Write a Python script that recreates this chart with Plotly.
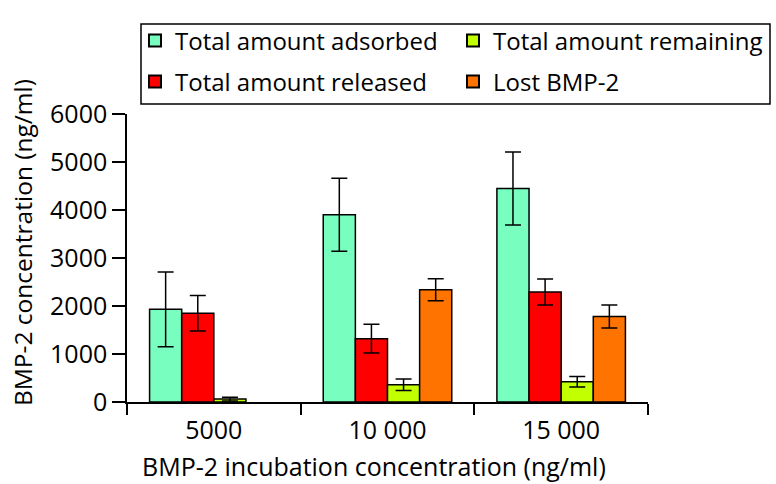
import plotly.graph_objects as go

categories = ["5000", "10 000", "15 000"]

adsorbed = [1930, 3900, 4450]
adsorbed_err = [780, 760, 760]
released = [1850, 1320, 2290]
released_err = [370, 300, 270]
remaining = [60, 360, 420]
remaining_err = [40, 120, 110]
lost = [None, 2340, 1780]
lost_err = [None, 230, 240]

series = [
    ("Total amount adsorbed", adsorbed, adsorbed_err, "#78FFC0", "legend"),
    ("Total amount released", released, released_err, "#FF0000", "legend2"),
    ("Total amount remaining", remaining, remaining_err, "#C2FF00", "legend"),
    ("Lost BMP-2", lost, lost_err, "#FF7300", "legend2"),
]

FONT = "Open Sans"
W, H = 776, 484
ML, MR, MT, MB = 127, 128, 114, 82
PW, PH = W - ML - MR, H - MT - MB


def px_x(p):
    return (p - ML) / PW


def px_y(p):
    return (H - MB - p) / PH


fig = go.Figure()
for name, vals, errs, color, leg in series:
    fig.add_trace(go.Bar(
        x=categories, y=vals, name=name, legend=leg,
        marker=dict(color=color, line=dict(color="black", width=1.5)),
        error_y=dict(type="data", array=errs, visible=True, color="black",
                     thickness=1.5, width=8),
    ))

leg_common = dict(
    orientation="h", xanchor="right", yanchor="middle",
    entrywidth=273, entrywidthmode="pixels",
    borderwidth=0, bgcolor="rgba(0,0,0,0)",
    font=dict(family=FONT, size=24, color="black"),
    traceorder="normal", itemsizing="constant",
)

fig.update_layout(
    width=W, height=H,
    margin=dict(l=ML, r=MR, t=MT, b=MB, autoexpand=False),
    plot_bgcolor="white", paper_bgcolor="white",
    font=dict(family=FONT, size=25, color="black"),
    barmode="group", bargap=0.26, bargroupgap=0,
    showlegend=True,
    legend=dict(x=px_x(771), y=px_y(41), **leg_common),
    legend2=dict(x=px_x(771), y=px_y(82), **leg_common),
    xaxis=dict(
        showline=True, linecolor="black", linewidth=1.5,
        ticks="outside", tickson="boundaries", ticklen=11, tickwidth=1.5,
        tickcolor="black", showgrid=False, zeroline=False,
        ticklabelstandoff=5,
        tickfont=dict(family=FONT, size=25, color="black"),
    ),
    yaxis=dict(
        range=[0, 6000], tickvals=[0, 1000, 2000, 3000, 4000, 5000, 6000],
        showline=True, linecolor="black", linewidth=1.5,
        ticks="outside", ticklen=13, tickwidth=1.5, tickcolor="black",
        showgrid=False, zeroline=False,
        tickfont=dict(family=FONT, size=25, color="black"),
    ),
    shapes=[dict(
        type="rect", xref="paper", yref="paper",
        x0=px_x(141), x1=px_x(770), y0=px_y(104), y1=px_y(24),
        line=dict(color="black", width=1.5), fillcolor="rgba(0,0,0,0)",
        layer="below",
    )],
    annotations=[
        dict(
            text="BMP-2 concentration (ng/ml)", textangle=-90,
            xref="paper", yref="paper", x=px_x(22), y=px_y(243),
            xanchor="center", yanchor="middle", showarrow=False,
            font=dict(family=FONT, size=24.5, color="black"),
        ),
        dict(
            text="BMP-2 incubation concentration (ng/ml)",
            xref="paper", yref="paper", x=px_x(374), y=px_y(466),
            xanchor="center", yanchor="middle", showarrow=False,
            font=dict(family=FONT, size=25, color="black"),
        ),
    ],
)

fig.write_html(
    "out.html",
    config={"displayModeBar": False},
    post_script="document.body.style.margin='0';document.body.style.overflow='hidden';",
)
